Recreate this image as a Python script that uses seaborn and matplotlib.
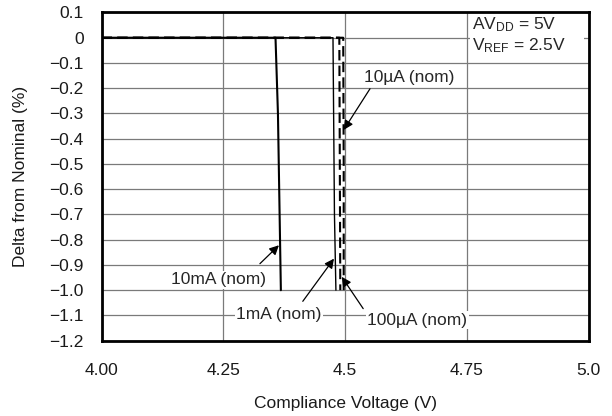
import pandas as pd
import seaborn as sns
import matplotlib.pyplot as plt
from matplotlib.patches import Rectangle

# (V, % delta)
volts_10ma = [4.00, 4.357, 4.362, 4.368]
delta_10ma = [0.0, 0.0, -0.30, -1.0]
volts_1ma = [4.00, 4.475, 4.478, 4.481]
delta_1ma = [0.0, 0.0, -0.70, -1.0]
volts_10ua = [4.00, 4.488, 4.489, 4.490]
delta_10ua = [0.0, 0.0, -0.50, -1.0]
volts_100ua = [4.00, 4.496, 4.497, 4.497]
delta_100ua = [0.0, 0.0, -0.50, -1.0]

x_ticks = [4.00, 4.25, 4.5, 4.75, 5.0]
x_labels = ["4.00", "4.25", "4.5", "4.75", "5.0"]
y_ticks = [0.1, 0, -0.1, -0.2, -0.3, -0.4, -0.5, -0.6, -0.7, -0.8, -0.9, -1.0, -1.1, -1.2]
y_labels = ["0.1", "0", "\u22120.1", "\u22120.2", "\u22120.3", "\u22120.4", "\u22120.5",
            "\u22120.6", "\u22120.7", "\u22120.8", "\u22120.9", "\u22121.0", "\u22121.1", "\u22121.2"]

series = [
    ("10mA", volts_10ma, delta_10ma, "-", 1.5),
    ("1mA", volts_1ma, delta_1ma, "-", 1.0),
    ("10uA", volts_10ua, delta_10ua, (0, (5, 2.5)), 1.5),
    ("100uA", volts_100ua, delta_100ua, (0, (5, 2.5)), 1.5),
]

sns.set_theme(style="whitegrid")
plt.rcParams["font.family"] = ["Liberation Sans", "DejaVu Sans"]
plt.rcParams["mathtext.fontset"] = "custom"
plt.rcParams["mathtext.rm"] = "Liberation Sans"
plt.rcParams["mathtext.it"] = "Liberation Sans"

fs = 12.5
txt = "#1a1a1a"

fig = plt.figure(figsize=(6.12, 4.16), dpi=100)
ax = fig.add_axes([0.166, 0.181, 0.796, 0.789])

for name, xs, ys, ls, lw in series:
    df = pd.DataFrame({"v": xs, "d": ys})
    sns.lineplot(data=df, x="v", y="d", ax=ax, color="black", linestyle=ls,
                 linewidth=lw, sort=False, estimator=None, zorder=3)

ax.set_xlim(4.0, 5.0)
ax.set_ylim(-1.2, 0.1)
ax.set_xticks(x_ticks)
ax.set_xticklabels(x_labels)
ax.set_yticks(y_ticks)
ax.set_yticklabels(y_labels)
ax.tick_params(axis="x", length=0, pad=16, labelsize=fs, colors=txt)
ax.tick_params(axis="y", length=0, pad=13, labelsize=fs, colors=txt)
ax.grid(True, color="#7a7a7a", linewidth=0.9)
for s in ax.spines.values():
    s.set_color("black")
    s.set_linewidth(2)
ax.set_xlabel("Compliance Voltage (V)", fontsize=fs, color=txt, labelpad=13)
ax.set_ylabel("Delta from Nominal (%)", fontsize=fs, color=txt, labelpad=15)

box = dict(facecolor="white", edgecolor="none", pad=1.0)
arrow = dict(arrowstyle="-|>", color="black", lw=0.9, mutation_scale=14, shrinkA=0, shrinkB=0)

ax.text(4.631, -0.156, "10\u00b5A (nom)", ha="center", va="center", fontsize=fs, bbox=box, zorder=4)
ax.annotate("", xy=(4.497, -0.365), xytext=(4.551, -0.202), arrowprops=arrow, zorder=5)

ax.text(4.241, -0.959, "10mA (nom)", ha="center", va="center", fontsize=fs, bbox=box, zorder=4)
ax.annotate("", xy=(4.364, -0.822), xytext=(4.325, -0.895), arrowprops=arrow, zorder=5)

ax.text(4.364, -1.098, "1mA (nom)", ha="center", va="center", fontsize=fs, bbox=box, zorder=4)
ax.annotate("", xy=(4.477, -0.875), xytext=(4.413, -1.044), arrowprops=arrow, zorder=5)

ax.text(4.648, -1.118, "100\u00b5A (nom)", ha="center", va="center", fontsize=fs, bbox=box, zorder=4)
ax.annotate("", xy=(4.493, -0.947), xytext=(4.537, -1.073), arrowprops=arrow, zorder=5)

# white panel behind the conditions note
ax.add_patch(Rectangle((0.756, 0.87), 0.234, 0.13, transform=ax.transAxes,
                       facecolor="white", edgecolor="none", zorder=2.5))
ax.text(0.761, 0.99, "AV$_{DD}$ = 5V\nV$_{REF}$ = 2.5V", transform=ax.transAxes,
        ha="left", va="top", fontsize=fs, linespacing=1.15, zorder=4)

fig.savefig("out.png", dpi=100)
